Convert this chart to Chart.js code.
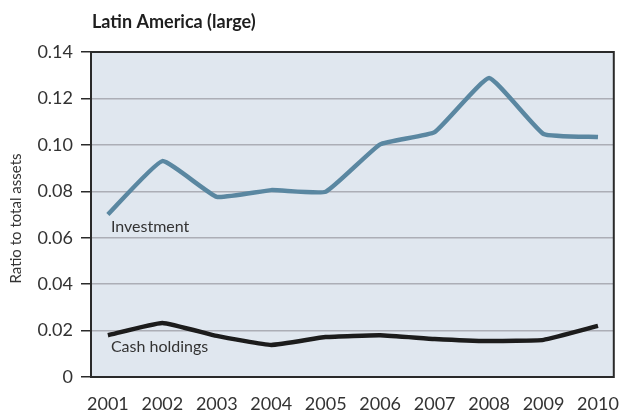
<!DOCTYPE html>
<html>
<head>
<meta charset="utf-8">
<script src="https://cdn.jsdelivr.net/npm/chart.js@4"></script>
<style>
  html, body { margin: 0; padding: 0; background: #fff; }
  #wrap { width: 627px; height: 410px; }
</style>
</head>
<body>
<div id="wrap"><canvas id="chart" width="627" height="410"></canvas></div>
<script>
const title = 'Latin America (large)';
const yAxisTitle = 'Ratio to total assets';
const years = [2001, 2002, 2003, 2004, 2005, 2006, 2007, 2008, 2009, 2010];
const investment = [0.070, 0.093, 0.0776, 0.0805, 0.0798, 0.1002, 0.1055, 0.1288, 0.1047, 0.1034];
const cashHoldings = [0.018, 0.0233, 0.0177, 0.0138, 0.0172, 0.018, 0.0164, 0.0155, 0.016, 0.022];
const yTicks = [0, 0.02, 0.04, 0.06, 0.08, 0.10, 0.12, 0.14];

// series labels written inside the plot, anchored at [year, value]
const seriesLabels = [
    { text: 'Investment', at: [2001, 0.0645] },
    { text: 'Cash holdings', at: [2001, 0.0128] },
];

const FONT = 'Lato, "Liberation Sans", sans-serif';

const panel = {
    id: 'panel',
    beforeDraw(chart) {
        const { ctx, chartArea: a } = chart;
        ctx.save();
        ctx.fillStyle = '#e0e7ef';
        ctx.fillRect(a.left, a.top, a.right - a.left, a.bottom - a.top);
        ctx.restore();
    },
    afterDatasetsDraw(chart) {
        const { ctx, chartArea: a, scales } = chart;
        ctx.save();
        ctx.strokeStyle = '#2a2a2a';
        ctx.lineWidth = 2;
        ctx.strokeRect(a.left, a.top, a.right - a.left, a.bottom - a.top);

        ctx.fillStyle = '#333';
        ctx.font = '16px ' + FONT;
        ctx.textBaseline = 'middle';
        seriesLabels.forEach((l) => {
            ctx.fillText(l.text, scales.x.getPixelForValue(l.at[0]) + 3, scales.y.getPixelForValue(l.at[1]));
        });

        // chart title, left-aligned with the plot frame
        ctx.fillStyle = '#1e1e1e';
        ctx.font = 'bold 18px ' + FONT;
        ctx.textBaseline = 'alphabetic';
        ctx.fillText(title, a.left + 1, 28);

        // rotated y-axis title
        ctx.translate(16, (a.top + a.bottom) / 2 + 4);
        ctx.rotate(-Math.PI / 2);
        ctx.textAlign = 'center';
        ctx.textBaseline = 'middle';
        ctx.fillStyle = '#333';
        ctx.font = '15px ' + FONT;
        ctx.fillText(yAxisTitle, 0, 0);
        ctx.restore();
    },
};

new Chart(document.getElementById('chart'), {
    type: 'line',
    data: {
        datasets: [
            {
                label: 'Investment',
                data: years.map((y, i) => ({ x: y, y: investment[i] })),
                borderColor: '#5a87a1',
                borderWidth: 4.5,
                tension: 0.12,
                borderJoinStyle: 'round',
                pointRadius: 0,
                fill: false,
            },
            {
                label: 'Cash holdings',
                data: years.map((y, i) => ({ x: y, y: cashHoldings[i] })),
                borderColor: '#1c1c1c',
                borderWidth: 4.5,
                tension: 0.12,
                borderJoinStyle: 'round',
                pointRadius: 0,
                fill: false,
            },
        ],
    },
    options: {
        responsive: false,
        animation: false,
        layout: { padding: { top: 52, right: 4, left: 0, bottom: 0 } },
        plugins: {
            legend: { display: false },
            tooltip: { enabled: false },
        },
        scales: {
            x: {
                type: 'linear',
                min: 2000.69,
                max: 2010.29,
                afterFit: (s) => { s.height = 33; },
                afterBuildTicks: (s) => { s.ticks = years.map((v) => ({ value: v })); },
                grid: { display: false },
                border: { display: false },
                ticks: {
                    autoSkip: false,
                    maxRotation: 0,
                    padding: 8,
                    color: '#333',
                    font: { family: FONT, size: 18 },
                    callback: (v) => String(v),
                },
            },
            y: {
                min: 0,
                max: 0.14,
                afterFit: (s) => { s.width = 91; },
                afterBuildTicks: (s) => { s.ticks = yTicks.map((v) => ({ value: v })); },
                grid: {
                    color: '#acaeb6',
                    lineWidth: 1.5,
                    tickColor: '#2a2a2a',
                    tickLength: 10,
                },
                border: { display: false },
                ticks: {
                    padding: 8,
                    color: '#333',
                    font: { family: FONT, size: 18 },
                    callback: (v) => (v === 0 ? '0' : v.toFixed(2)),
                },
            },
        },
    },
    plugins: [panel],
});
</script>
</body>
</html>
